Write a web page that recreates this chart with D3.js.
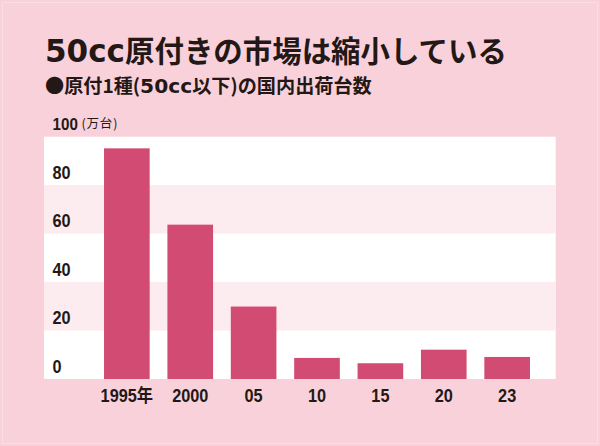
<!DOCTYPE html>
<html><head><meta charset="utf-8">
<script src="https://cdn.jsdelivr.net/npm/d3@7"></script>
<style>
html,body{margin:0;padding:0;background:#f9d1da;}
svg{display:block;}
</style></head>
<body>
<svg id="chart" width="600" height="446"></svg>
<script>
const titleLatin = "50cc";
const titleRest = "原付きの市場は縮小している";
const subtitleParts = ["●原付1種(", "50cc", "以下)の国内出荷台数"];
const unitLabel = "(万台)";
const categories = ["1995年","2000","05","10","15","20","23"];
const values = [95.2, 63.7, 29.9, 8.7, 6.5, 12.1, 9.1];
const yTicks = [0,20,40,60,80,100];

const svg = d3.select("#chart");
const W = 600, H = 446;
const plot = {left:44, right:555.7, top:136.7, bottom:379};
const axisFont = "'Liberation Sans','Noto Sans CJK JP',sans-serif";
const cjk = "'Noto Sans CJK JP',sans-serif";
const wide = "'DejaVu Sans','Noto Sans CJK JP',sans-serif";
const ink = "#231815";

svg.append("rect").attr("width",W).attr("height",H).attr("fill","#f9d1da");
svg.append("rect").attr("x",2.5).attr("y",2.5).attr("width",W-5).attr("height",H-5)
  .attr("fill","none").attr("stroke","#fbdde3").attr("stroke-width",1);

const y = d3.scaleLinear().domain([0,100]).range([plot.bottom, plot.top]);
const x = d3.scaleBand().domain(categories).range([95.15, 538.85]).paddingInner(0.28).paddingOuter(0.14);

svg.append("rect").attr("x",plot.left).attr("y",plot.top)
  .attr("width",plot.right-plot.left).attr("height",plot.bottom-plot.top).attr("fill","#ffffff");
const bandStarts = yTicks.slice(0,-1);
svg.append("g").selectAll("rect").data(bandStarts.filter((d,i)=>i%2===1)).join("rect")
  .attr("x",plot.left).attr("width",plot.right-plot.left)
  .attr("y",d=>y(d+20)).attr("height",d=>y(d)-y(d+20)).attr("fill","#fdecef");

svg.append("g").selectAll("rect").data(categories).join("rect")
  .attr("x",d=>x(d)).attr("width",x.bandwidth())
  .attr("y",(d,i)=>y(values[i])).attr("height",(d,i)=>y(0)-y(values[i]))
  .attr("fill","#d24b72");

// y axis
const yAxis = svg.append("g").attr("transform","translate(52.5,0)")
  .call(d3.axisLeft(y).tickValues(yTicks).tickSize(0).tickFormat(d3.format("d")));
yAxis.select(".domain").remove();
yAxis.attr("font-family",null).attr("font-size",null);
yAxis.selectAll("text").attr("x",0).attr("dy",null).attr("y",-7)
  .attr("text-anchor","start").attr("fill",ink)
  .attr("transform",d=>d===100?"scale(0.95,1)":"scale(0.88,1)")
  .style("font-family",axisFont).style("font-size",d=>d===100?"16px":"18.5px").style("font-weight","bold");
svg.append("text").attr("x",81.5).attr("y",y(100)-8.3).text(unitLabel)
  .attr("fill",ink).attr("letter-spacing","0.8")
  .style("font-family",cjk).style("font-size","12.5px");

// x axis
const xAxis = svg.append("g").attr("transform",`translate(0,${plot.bottom})`)
  .call(d3.axisBottom(x).tickSize(0));
xAxis.select(".domain").remove();
xAxis.attr("font-family",null).attr("font-size",null);
xAxis.selectAll("text").attr("dy",null).attr("y",22.7).attr("fill",ink)
  .attr("transform","scale(0.88,1)")
  .style("font-family",axisFont).style("font-size","18.5px").style("font-weight","bold");

// titles: fit to reference widths
function fitText(sel, targetW, baseSizes){
  const spans = sel.selectAll("tspan");
  const w = sel.node().getComputedTextLength();
  const k = targetW / w;
  spans.style("font-size",(d,i)=>(baseSizes[i]*k)+"px");
}
const t = svg.append("text").attr("x",45).attr("y",61.5).attr("fill",ink).style("font-weight","bold");
t.append("tspan").text(titleLatin).style("font-family",wide).style("font-size","29px");
t.append("tspan").text(titleRest).style("font-family",cjk).style("font-size","27.5px");
fitText(t, 462, [29,27.5]);

const s = svg.append("text").attr("x",45).attr("y",93).attr("fill",ink).style("font-weight","bold");
s.append("tspan").text(subtitleParts[0]).style("font-family",cjk).style("font-size","18px");
s.append("tspan").text(subtitleParts[1]).style("font-family",wide).style("font-size","19px");
s.append("tspan").text(subtitleParts[2]).style("font-family",cjk).style("font-size","18px");
fitText(s, 327, [18,19,18]);
</script>
</body></html>
